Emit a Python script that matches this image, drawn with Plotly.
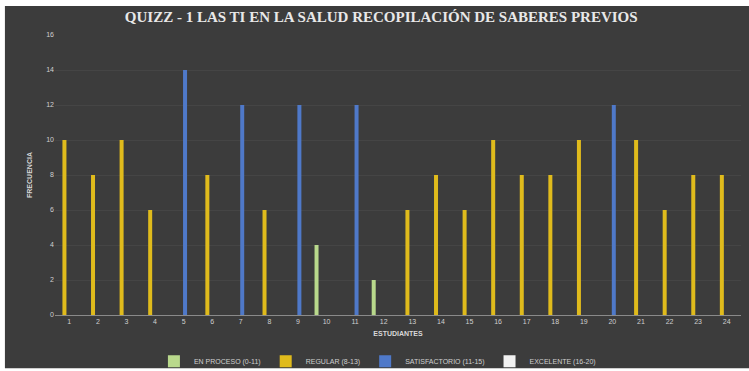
import plotly.graph_objects as go

students = [str(i) for i in range(1, 25)]
en_proceso = [None]*9 + [4, None, 2] + [None]*12
regular = [10, 8, 10, 6, None, 8, None, 6, None, None, None, None,
           6, 8, 6, 10, 8, 8, 10, None, 10, 6, 8, 8]
satisfactorio = [None, None, None, None, 14, None, 12, None, 12, None, 12, None,
                 None, None, None, None, None, None, None, 12, None, None, None, None]
excelente = [None]*24

series = [
    ("EN PROCESO (0-11)", en_proceso, "#b9d98c", -0.42),
    ("REGULAR (8-13)", regular, "#e0bb1c", -0.24),
    ("SATISFACTORIO (11-15)", satisfactorio, "#4f79c9", -0.02),
    ("EXCELENTE (16-20)", excelente, "#f2f2f2", 0.16),
]

fig = go.Figure()
for name, vals, color, off in series:
    fig.add_trace(go.Bar(
        x=students, y=vals, name=name, width=0.14, offset=off,
        marker=dict(color=color, line=dict(width=0)),
    ))

fig.update_layout(
    width=749, height=371,
    margin=dict(l=55, r=8, t=35, b=56, autoexpand=False),
    paper_bgcolor="white",
    plot_bgcolor="rgba(0,0,0,0)",
    barmode="overlay",
    title=dict(
        text="<b>QUIZZ - 1 LAS TI EN LA SALUD RECOPILACIÓN DE SABERES PREVIOS</b>",
        x=0.509, xanchor="center", y=0.955, yanchor="middle",
        font=dict(family="Liberation Serif", size=15, color="#e8e8e8"),
    ),
    shapes=[dict(type="rect", xref="paper", yref="paper",
                 x0=-0.073, x1=1.02, y0=-0.19, y1=1.104,
                 fillcolor="#3c3c3c", line=dict(width=0), layer="below")],
    legend=dict(orientation="h", x=0.47, xanchor="center", y=-0.165, yanchor="middle",
                font=dict(family="Liberation Sans", size=7, color="#cfcfcf"),
                bgcolor="rgba(0,0,0,0)", itemwidth=30, tracegroupgap=0),
    showlegend=True,
)
fig.update_xaxes(
    type="category", range=[-0.5, 23.5], automargin=False,
    showgrid=False, showline=True, linecolor="#8a8a8a", linewidth=1,
    ticks="", tickfont=dict(family="Liberation Sans", size=7, color="#d0d0d0"),
    title=dict(text="<b>ESTUDIANTES</b>", standoff=6,
               font=dict(family="Liberation Sans", size=7, color="#d8d8d8")),
)
fig.update_yaxes(
    range=[0, 16], dtick=2, showgrid=True, gridcolor="#454545", gridwidth=1,
    zeroline=False, showline=False, ticks="", automargin=False,
    tickfont=dict(family="Liberation Sans", size=7, color="#d0d0d0"),
    title=dict(text="<b>FRECUENCIA</b>", standoff=12,
               font=dict(family="Liberation Sans", size=7, color="#d8d8d8")),
)

fig.write_html("out.html")
